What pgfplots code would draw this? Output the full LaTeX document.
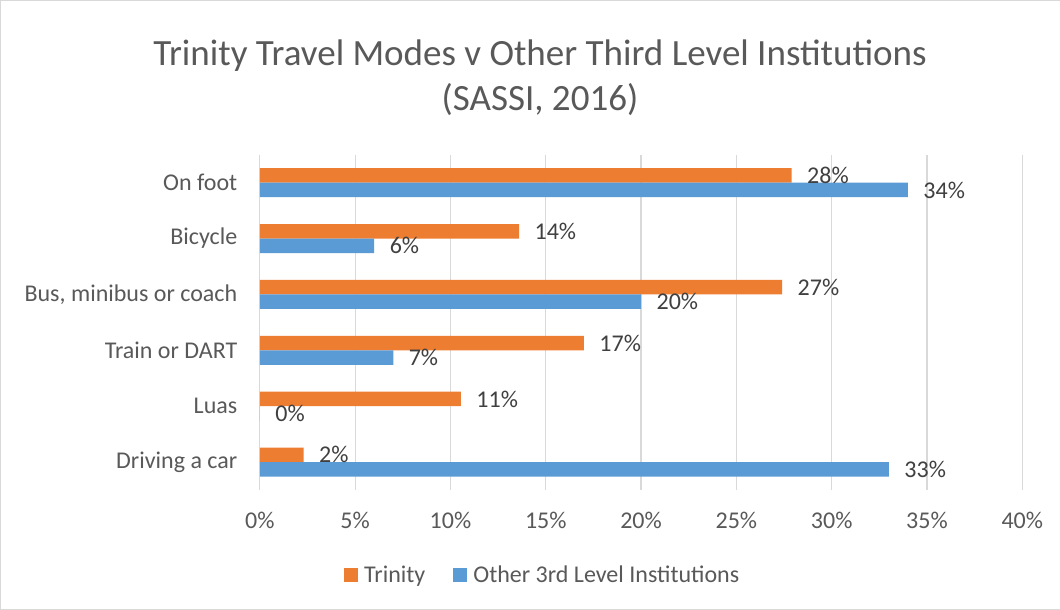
\documentclass[border=0pt]{standalone}
\usepackage{pgfplots}
\pgfplotsset{compat=1.18}
\usepackage{fontspec}
\setmainfont{Carlito}
\definecolor{orng}{HTML}{ED7D31}
\definecolor{blu}{HTML}{5B9BD5}
\definecolor{gridc}{HTML}{D9D9D9}
\definecolor{txt}{HTML}{595959}
\definecolor{lbl}{HTML}{404040}
\begin{document}
\begin{tikzpicture}[x=1pt,y=1pt]
\draw[gridc,fill=white] (0.5,0.5) rectangle (1059.5,609.5);
\node[align=center,text=txt,font=\fontsize{37}{45}\selectfont] at (540,532) {Trinity Travel Modes v Other Third Level Institutions\\(SASSI, 2016)};
\begin{axis}[
  at={(260pt,120pt)}, anchor=south west,
  scale only axis, width=762pt, height=335pt,
  xbar, bar width=14.5pt,
  xmin=0, xmax=40, ymin=-0.5, ymax=5.5,
  xtick={0,5,...,40},
  xticklabel={\pgfmathprintnumber{\tick}\%},
  /pgf/number format/assume math mode=true,
  ytick={0,1,2,3,4,5},
  yticklabels={Driving a car,Luas,Train or DART,{Bus, minibus or coach},Bicycle,On foot},
  xmajorgrids, major grid style={gridc,line width=1.2pt},
  axis line style={draw=none},
  major tick length=0pt,
  tick label style={text=txt,font=\fontsize{24}{28}\selectfont},
  yticklabel style={xshift=-19pt},
  xticklabel style={yshift=-19pt},
  nodes near coords={\pgfmathprintnumber[fixed,precision=0]{\pgfplotspointmeta}\%},
  point meta=x,
  every node near coord/.append style={anchor=west,xshift=12pt,text=lbl,font=\fontsize{24}{28}\selectfont},
  legend style={at={(0.371,-0.254)},anchor=center,draw=none,legend columns=2,
    font=\fontsize{24}{28}\selectfont,text=txt,
    /tikz/every odd column/.append style={column sep=4pt},
    /tikz/every even column/.append style={column sep=26pt}},
  legend image code/.code={\fill[#1] (0pt,-7pt) rectangle (14pt,7pt);},
  clip=false,
]
\addplot[fill=orng,draw=none,bar shift=7.25pt] coordinates {
 (2.3,0) (10.55,1) (17.0,2) (27.4,3) (13.6,4) (27.9,5)};
\addlegendentry{Trinity}
\addplot[fill=blu,draw=none,bar shift=-7.25pt] coordinates {
 (33.0,0) (0,1) (7.0,2) (20.0,3) (6.0,4) (34.0,5)};
\addlegendentry{Other 3rd Level Institutions}
\end{axis}
\end{tikzpicture}
\end{document}
